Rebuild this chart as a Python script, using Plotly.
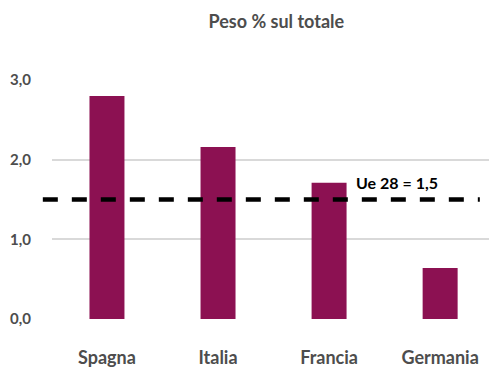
import plotly.graph_objects as go

# Quota percentuale sul totale per paese
paesi = ["Spagna", "Italia", "Francia", "Germania"]
peso = [2.8, 2.16, 1.71, 0.64]

# Media Ue 28
media_ue = 1.5
etichetta_media = "Ue 28 = 1,5"

tick_vals = [0, 1, 2, 3]
tick_text = ["0,0", "1,0", "2,0", "3,0"]

FONT = "Lato, Roboto, sans-serif"
GREY = "#4d4d4d"
BAR = "#8C1152"


def font(size, color=GREY):
    return dict(family=FONT, size=size, color=color, weight="bold")


fig = go.Figure(
    go.Bar(
        x=list(range(len(paesi))),
        y=peso,
        marker=dict(color=BAR, line=dict(width=0)),
        width=0.315,
    )
)

fig.add_shape(
    type="line",
    xref="paper",
    yref="y",
    x0=-0.021,
    x1=0.979,
    y0=media_ue,
    y1=media_ue,
    line=dict(color="black", width=4.5, dash="15px,14px"),
    layer="above",
)

fig.add_annotation(
    xref="paper",
    yref="y",
    x=0.79,
    xanchor="center",
    y=media_ue,
    yshift=17,
    text=etichetta_media,
    showarrow=False,
    font=font(16, "black"),
)

fig.update_layout(
    width=489,
    height=371,
    margin=dict(l=52, r=0, t=80, b=52),
    paper_bgcolor="white",
    plot_bgcolor="white",
    showlegend=False,
    title=dict(
        text="Peso % sul totale",
        x=0.565,
        xanchor="center",
        y=0.942,
        yanchor="middle",
        font=font(18),
    ),
    xaxis=dict(
        range=[-0.495, 3.44],
        tickvals=list(range(len(paesi))),
        ticktext=paesi,
        showgrid=False,
        zeroline=False,
        showline=False,
        ticks="",
        ticklabelstandoff=26,
        tickfont=font(18),
    ),
    yaxis=dict(
        range=[0, 3.0],
        tickvals=tick_vals,
        ticktext=tick_text,
        showgrid=True,
        gridcolor="#d9d9d9",
        gridwidth=1.5,
        zeroline=False,
        showline=False,
        ticks="",
        ticklabelstandoff=20,
        tickfont=font(15),
    ),
)

fig.write_html("out.html")
